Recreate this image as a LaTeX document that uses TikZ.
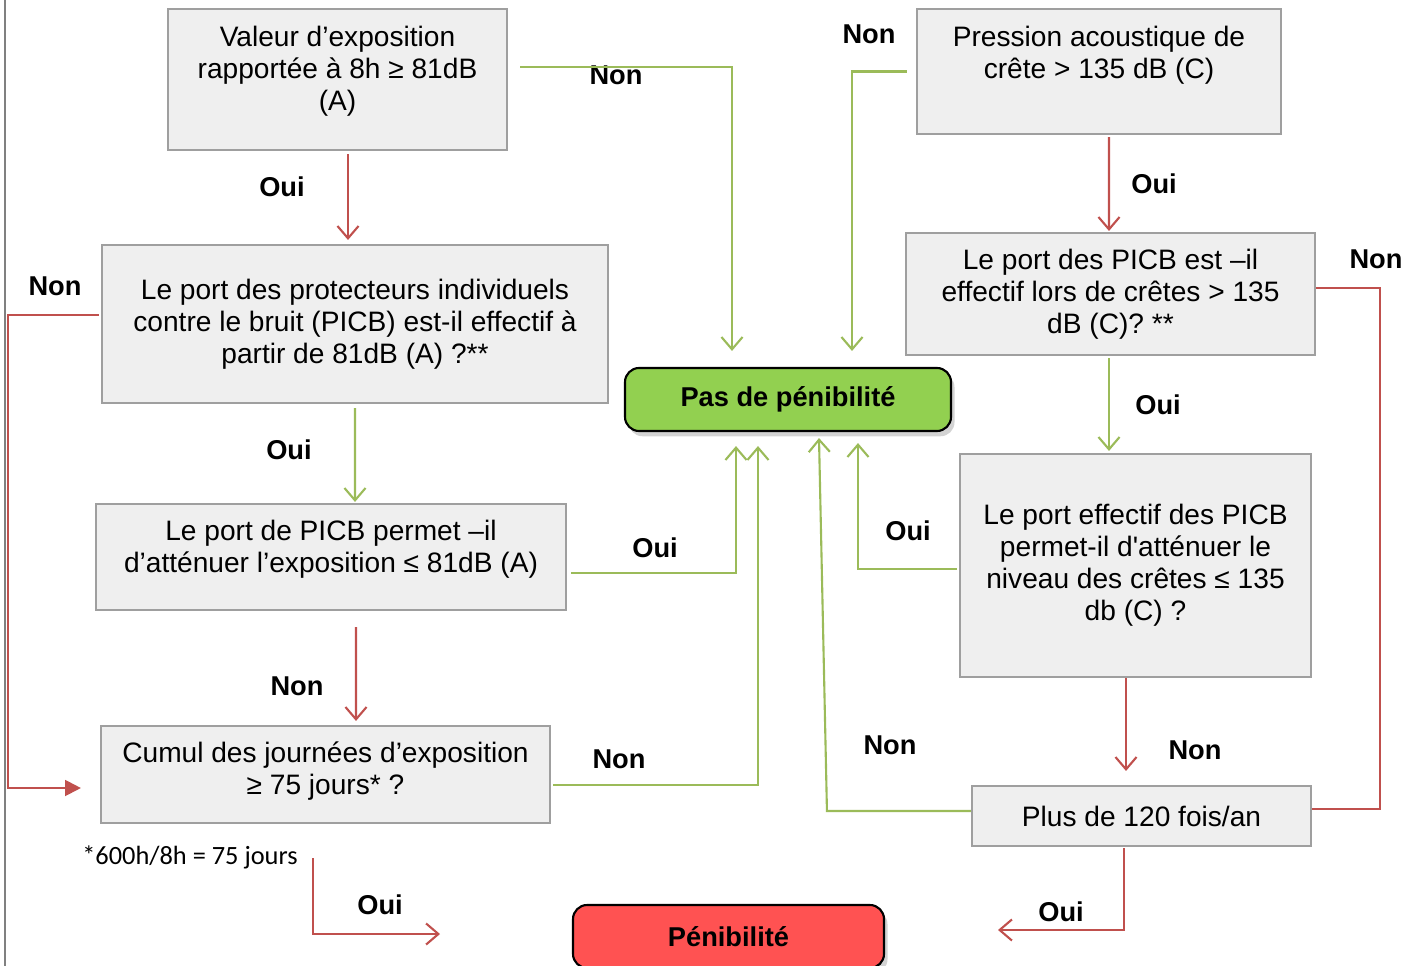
\documentclass[tikz,border=0pt]{standalone}
\usepackage{fontspec}
\setmainfont{Liberation Sans}
\newfontfamily\notefont{Carlito}
\usetikzlibrary{arrows.meta,shadows}

\definecolor{linered}{RGB}{192,80,77}
\definecolor{linegreen}{RGB}{155,187,89}
\definecolor{boxgreen}{RGB}{146,208,80}
\definecolor{boxred}{RGB}{255,82,82}
\definecolor{boxgray}{RGB}{239,239,239}

\tikzset{
  qbox/.style={draw=gray!75,line width=1.2pt,fill=boxgray,align=center,inner sep=0pt,
    font=\fontsize{16}{18.2}\selectfont},
  endbox/.style={draw=black,line width=1.2pt,rounded corners=8pt,inner sep=0pt,
    font=\fontsize{15.5}{18}\selectfont\bfseries,drop shadow={opacity=0.35,shadow xshift=2pt,shadow yshift=-3pt}},
  lab/.style={font=\fontsize{15.5}{18}\selectfont\bfseries},
  oui/.style={draw=linered,line width=1.2pt,-{Straight Barb[length=7pt,width=12pt]}},
  non/.style={draw=linegreen,line width=1.2pt,-{Straight Barb[length=7pt,width=12pt]}},
}

\begin{document}
\begin{tikzpicture}
\useasboundingbox (0,0) rectangle (28.32,-19.32);
\draw[gray,line width=0.8pt] (0.10,0) -- (0.10,-19.32);

% questions
\node[qbox,minimum width=6.78cm,minimum height=2.82cm,text depth=12.5pt] (valeur) at (6.75,-1.59)
  {Valeur d’exposition\\rapportée à 8h ≥ 81dB\\(A)};
\node[qbox,minimum width=10.12cm,minimum height=3.16cm] (port) at (7.10,-6.48)
  {Le port des protecteurs individuels\\contre le bruit (PICB) est-il effectif à\\partir de 81dB (A) ?**};
\node[qbox,minimum width=9.40cm,minimum height=2.12cm,text depth=12pt] (attenuer) at (6.62,-11.14)
  {Le port de PICB permet –il\\d’atténuer l’exposition ≤ 81dB (A)};
\node[qbox,minimum width=8.98cm,minimum height=1.94cm,text depth=7pt] (cumul) at (6.51,-15.49)
  {Cumul des journées d’exposition\\≥ 75 jours* ?};
\node[qbox,minimum width=7.28cm,minimum height=2.50cm,text depth=21.5pt] (pression) at (21.98,-1.43)
  {Pression acoustique de\\crête > 135 dB (C)};
\node[qbox,minimum width=8.18cm,minimum height=2.44cm] (cretes) at (22.21,-5.88)
  {Le port des PICB est –il\\effectif lors de crêtes > 135\\dB (C)? **};
\node[qbox,minimum width=7.02cm,minimum height=4.46cm] (effectif) at (22.71,-11.31)
  {Le port effectif des PICB\\permet-il d\textquotesingle atténuer le\\niveau des crêtes ≤ 135\\db (C) ?};
\node[qbox,minimum width=6.78cm,minimum height=1.20cm] (plus) at (22.83,-16.32)
  {Plus de 120 fois/an};

% results
\node[endbox,fill=boxgreen,minimum width=6.52cm,minimum height=1.26cm] (pas) at (15.76,-7.99) {Pas de pénibilité};
\node[endbox,fill=boxred,minimum width=6.22cm,minimum height=1.26cm] (penib) at (14.57,-18.73) {Pénibilité};

\node[font=\notefont\fontsize{15}{18}\selectfont] (note) at (3.80,-17.14) {*600h/8h = 75 jours};

\foreach \x/\y/\n/\t in {5.64/-3.74/l1/Oui, 12.32/-1.50/l2/Non, 17.38/-0.68/l3/Non, 23.08/-3.68/l4/Oui,
  23.16/-8.10/l5/Oui, 27.52/-5.18/l6/Non, 18.16/-10.62/l7/Oui, 23.90/-15.00/l8/Non, 17.80/-14.90/l9/Non,
  21.22/-18.24/l10/Oui, 5.78/-9.00/l11/Oui, 1.10/-5.72/l12/Non, 13.10/-10.96/l13/Oui, 5.94/-13.72/l14/Non,
  12.38/-15.18/l15/Non, 7.60/-18.10/l16/Oui}
  \node[lab] (\n) at (\x,\y) {\t};

\coordinate (oa) at (6.26,-17.16);
\coordinate (ob) at (8.80,-18.68);
\coordinate (oc) at (19.96,-18.60);

% left column
\draw[oui] ([xshift=0.21cm,yshift=-0.06cm]valeur.south) -- ([xshift=-0.14cm,yshift=0.08cm]port.north);
\draw[non] ([shift={(0.24,0.25)}]valeur.east) -| ([shift={(-1.12,0.32)}]pas.north);
\draw[non] ([yshift=-0.08cm]port.south) -- ([shift={(0.48,0.02)}]attenuer.north);
\draw[oui,-{Triangle[length=9pt,width=9pt]}] ([shift={(-0.04,0.18)}]port.west) -- ++(-1.82,0) |- ([shift={(-0.38,-0.27)}]cumul.west);
\draw[non] ([shift={(0.08,-0.32)}]attenuer.east) -| ([shift={(-1.04,-0.28)}]pas.south);
\draw[oui] ([shift={(0.50,-0.32)}]attenuer.south) -- ([shift={(0.61,0.08)}]cumul.north);
\draw[non] ([shift={(0.04,-0.21)}]cumul.east) -| ([shift={(-0.60,-0.28)}]pas.south);
\draw[oui] (oa) |- (ob);

% right column
\draw[non] ([xshift=-0.18cm]pression.west) -| ([shift={(1.28,0.32)}]pas.north);
\draw[oui] ([shift={(0.20,-0.04)}]pression.south) -- ([shift={(-0.03,0.02)}]cretes.north);
\draw[non] ([shift={(-0.03,-0.04)}]cretes.south) -- ([shift={(-0.53,0.04)}]effectif.north);
\draw[oui,-] ([yshift=0.12cm]cretes.east) -- ++(1.28,0) |- ([yshift=0.14cm]plus.east);
\draw[non] ([shift={(-0.04,-0.07)}]effectif.west) -| ([shift={(1.40,-0.22)}]pas.south);
\draw[oui] ([xshift=-0.19cm]effectif.south) -- ([shift={(-0.31,0.28)}]plus.north);
\draw[non] ([yshift=0.10cm]plus.west) -- ++(-2.88,0) -- ([shift={(0.62,-0.12)}]pas.south);
\draw[oui] ([shift={(-0.35,-0.02)}]plus.south) |- (oc);
\end{tikzpicture}
\end{document}
